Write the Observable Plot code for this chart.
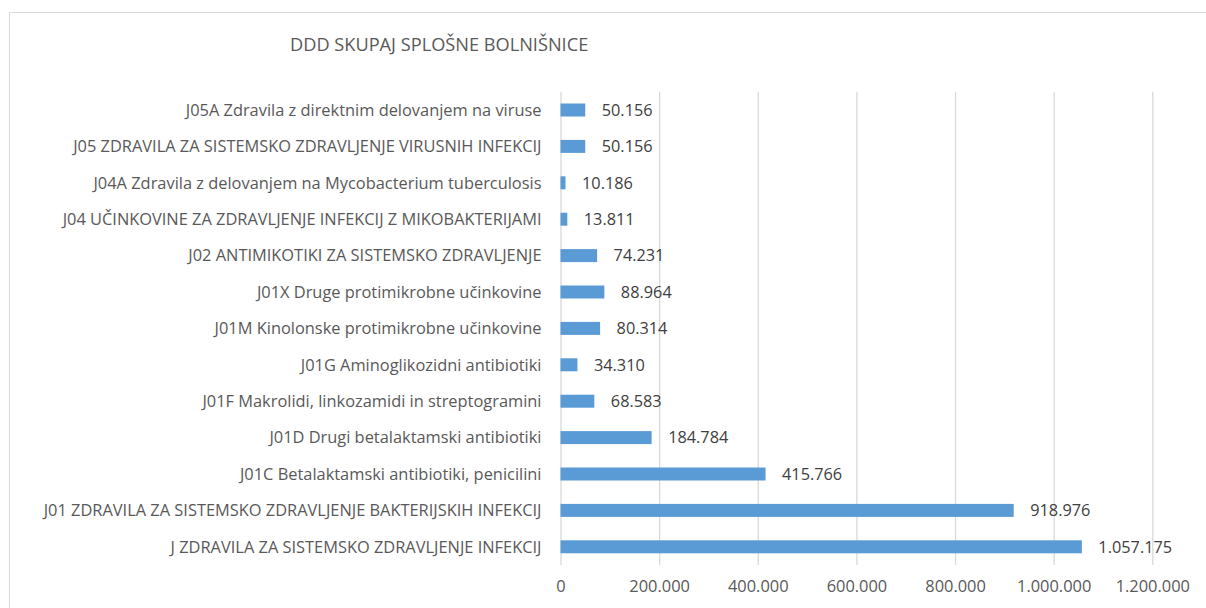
<!DOCTYPE html>
<html>
<head>
<meta charset="utf-8">
<script src="https://cdn.jsdelivr.net/npm/d3@7"></script>
<script src="https://cdn.jsdelivr.net/npm/@observablehq/plot@0.6"></script>
<style>
  html, body { margin: 0; padding: 0; background: #fff; }
  #wrap { position: relative; width: 1206px; height: 608px; overflow: hidden; font-family: "Open Sans", sans-serif; }
  #frame { position: absolute; left: 9px; top: 12px; width: 1210px; height: 620px; border: 1px solid #d9d9d9; box-sizing: border-box; }
  #title { position: absolute; left: 290px; top: 32px; font-size: 18.2px; color: #595959; white-space: nowrap; }
  #chart { position: absolute; left: 0; top: 0; }
</style>
</head>
<body>
<div id="wrap">
  <div id="frame"></div>
  <div id="title">DDD SKUPAJ SPLOŠNE BOLNIŠNICE</div>
  <div id="chart"></div>
</div>
<script>
const categories = [
  "J05A Zdravila z direktnim delovanjem na viruse",
  "J05 ZDRAVILA ZA SISTEMSKO ZDRAVLJENJE VIRUSNIH INFEKCIJ",
  "J04A Zdravila z delovanjem na Mycobacterium tuberculosis",
  "J04 UČINKOVINE ZA ZDRAVLJENJE INFEKCIJ Z MIKOBAKTERIJAMI",
  "J02 ANTIMIKOTIKI ZA SISTEMSKO ZDRAVLJENJE",
  "J01X Druge protimikrobne učinkovine",
  "J01M Kinolonske protimikrobne učinkovine",
  "J01G Aminoglikozidni antibiotiki",
  "J01F Makrolidi, linkozamidi in streptogramini",
  "J01D Drugi betalaktamski antibiotiki",
  "J01C Betalaktamski antibiotiki, penicilini",
  "J01 ZDRAVILA ZA SISTEMSKO ZDRAVLJENJE BAKTERIJSKIH INFEKCIJ",
  "J ZDRAVILA ZA SISTEMSKO ZDRAVLJENJE INFEKCIJ"
];
const values = [50156, 50156, 10186, 13811, 74231, 88964, 80314, 34310, 68583, 184784, 415766, 918976, 1057175];
const xTicks = [0, 200000, 400000, 600000, 800000, 1000000, 1200000];

const data = categories.map((c, i) => ({category: c, value: values[i]}));
const loc = d3.formatLocale({decimal: ",", thousands: ".", grouping: [3], currency: ["", ""]});
const fmt = loc.format(",d");

const chart = Plot.plot({
  width: 1206,
  height: 608,
  marginLeft: 560.5,
  marginRight: 53.7,
  marginTop: 91.8,
  marginBottom: 43,
  style: {fontFamily: "'Open Sans', sans-serif", fontSize: "16.4px", color: "#595959", background: "transparent"},
  x: {domain: [0, 1200000], ticks: xTicks, tickFormat: d => fmt(d), tickSize: 0, tickPadding: 15, label: null},
  y: {domain: categories, padding: 0, round: false, tickSize: 0, tickPadding: 19.5, label: null},
  marks: [
    Plot.ruleX(xTicks, {stroke: "#d9d9d9", strokeWidth: 1.3}),
    Plot.barX(data, {x: "value", y: "category", fill: "#5b9bd5", insetTop: 11.7, insetBottom: 11.7}),
    Plot.text(data, {x: "value", y: "category", text: d => fmt(d.value), textAnchor: "start", dx: 16, fill: "#404040", fontSize: 16.3})
  ]
});
document.getElementById("chart").appendChild(chart);
</script>
</body>
</html>
